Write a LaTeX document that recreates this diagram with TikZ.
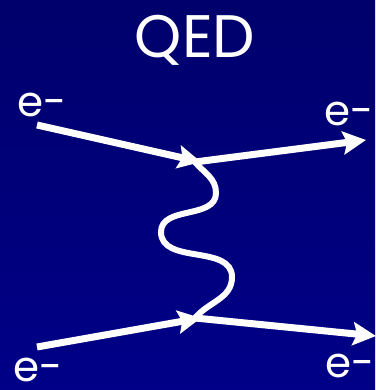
\documentclass[tikz,border=0pt]{standalone}
\usepackage{fontspec}
\setmainfont{Poppins}
\usetikzlibrary{arrows.meta, positioning}
\definecolor{qednavy}{RGB}{0,0,108}
\definecolor{qeddeep}{RGB}{0,0,136}

\begin{document}
\begin{tikzpicture}[x=1pt, y=1pt]
\tikzstyle{fermion} = [line width=7pt, white, -{Stealth[length=23pt, width=23pt, inset=4pt]}]
\tikzstyle{photon} = [line width=6pt, white, line cap=round]
\tikzstyle{particle} = [text=white, font=\fontsize{42}{42}\selectfont, inner sep=0pt]

\shade[top color=qednavy, bottom color=qeddeep] (0,0) rectangle (375,390);
\useasboundingbox (0,0) rectangle (375,390);

\node (title) [text=white, font=\fontsize{60}{60}\selectfont, inner sep=0pt] at (195,350) {QED};

% vertices and external legs
\coordinate (vtop) at (195,228);
\coordinate (vbot) at (195,72);
\coordinate (intop) at (37,265);
\coordinate (outtop) at (366,250);
\coordinate (inbot) at (37,43);
\coordinate (outbot) at (376,54);

\node (etl) [particle] at (42,285) {e-};
\node (etr) [particle] at (349,276) {e-};
\node (ebl) [particle] at (38,20) {e-};
\node (ebr) [particle] at (350,24) {e-};

% virtual photon
\draw[photon] (vtop) to[out=-50, in=90] (216,197) to[out=-90, in=90] (161,158)
  to[out=-90, in=90] (232,113) to[out=-90, in=50] (vbot);

% electron lines
\draw[fermion] (intop) -- ([xshift=6pt]vtop);
\draw[fermion] (inbot) -- ([xshift=6pt]vbot);
\draw[fermion] (vtop) -- (outtop);
\draw[fermion] (vbot) -- (outbot);

\end{tikzpicture}
\end{document}
